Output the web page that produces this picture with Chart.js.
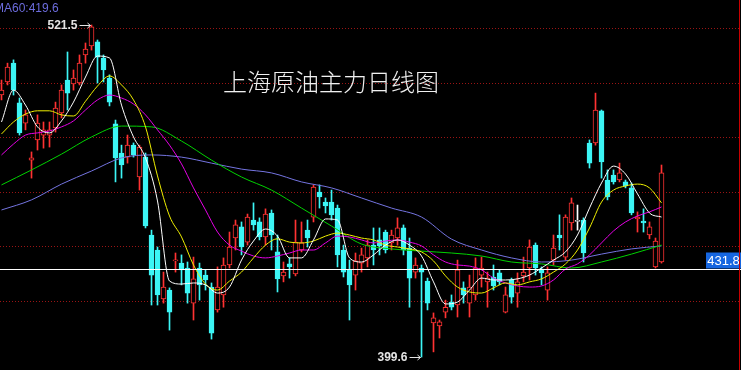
<!DOCTYPE html>
<html>
<head>
<meta charset="utf-8">
<title>上海原油主力日线图</title>
<script src="https://cdn.jsdelivr.net/npm/chart.js@4.4.1/dist/chart.umd.min.js"></script>
<style>
	html, body { margin: 0; padding: 0; background: #000; }
	canvas { display: block; background: #000; }
</style>
</head>
<body>
<canvas id="myChart" width="741" height="370"></canvas>
<script>
// daily candles, oldest first
var opens = [495.8, 500.6, 507.5, 492.9, 485.5, 471.9, 479.3, 481.1, 481.1, 483.7,
	489.2, 501.3, 499.9, 500.2, 510.5, 513.8, 515.3, 509.4, 502.0, 485.2,
	474.5, 473.0, 477.4, 465.7, 473.0, 444.4, 438.9, 420.9, 424.2, 434.9,
	434.1, 432.3, 419.4, 432.3, 429.7, 425.3, 416.9, 422.4, 433.4, 443.3,
	447.4, 441.8, 449.9, 449.2, 443.7, 452.5, 438.2, 429.4, 433.8, 430.1,
	438.9, 446.2, 451.0, 460.2, 456.5, 456.5, 454.3, 438.9, 431.6, 429.7,
	434.1, 436.0, 440.7, 442.6, 445.5, 441.5, 443.3, 447.0, 439.6, 430.8,
	432.3, 427.5, 412.1, 411.0, 416.1, 419.8, 418.7, 425.0, 419.4, 422.4,
	429.7, 427.2, 429.0, 430.5, 416.1, 427.9, 423.1, 429.4, 432.3, 440.7,
	431.9, 424.2, 435.2, 444.4, 436.3, 448.8, 449.4, 449.9, 478.2, 478.2,
	490.0, 464.6, 466.4, 464.6, 463.9, 461.7, 450.3, 449.5, 444.4, 432.7,
	434.5];
var highs = [501.3, 507.5, 508.7, 494.7, 490.3, 474.9, 488.5, 485.9, 485.9, 493.2,
	499.5, 511.6, 505.0, 510.5, 514.9, 521.5, 516.0, 510.5, 503.2, 486.6,
	477.4, 481.1, 478.2, 477.4, 474.5, 446.2, 440.0, 430.8, 425.0, 437.8,
	437.1, 434.5, 436.3, 434.1, 431.6, 426.8, 432.7, 436.0, 445.5, 449.9,
	449.2, 452.1, 456.2, 450.7, 454.0, 453.6, 444.4, 434.5, 436.0, 449.9,
	449.2, 449.9, 462.8, 462.8, 458.0, 460.9, 455.4, 440.7, 435.2, 437.8,
	439.6, 442.6, 447.0, 447.0, 446.2, 446.2, 450.7, 448.1, 443.3, 436.0,
	433.4, 428.6, 415.8, 413.2, 420.5, 422.4, 435.2, 427.2, 429.7, 436.0,
	436.3, 430.8, 433.4, 431.6, 425.3, 428.6, 430.5, 436.3, 442.6, 441.5,
	432.7, 432.7, 444.4, 451.8, 451.8, 458.0, 455.4, 450.7, 479.3, 496.5,
	490.3, 468.3, 468.3, 470.8, 464.6, 463.5, 452.9, 454.0, 449.2, 443.3,
	470.1];
var lows = [494.0, 499.5, 495.8, 481.1, 483.0, 465.3, 475.6, 476.3, 476.7, 482.2,
	487.4, 490.3, 497.6, 499.5, 507.5, 512.3, 500.2, 500.6, 491.8, 463.9,
	465.3, 470.8, 473.0, 460.9, 447.0, 418.7, 418.7, 419.4, 409.5, 430.8,
	426.1, 419.4, 413.2, 420.5, 424.2, 406.2, 416.1, 417.9, 432.3, 438.9,
	437.1, 440.7, 446.2, 442.6, 440.7, 438.9, 423.5, 427.2, 428.6, 429.4,
	438.2, 440.0, 449.2, 454.3, 452.5, 449.9, 432.7, 429.0, 413.2, 424.2,
	430.8, 432.7, 433.4, 437.1, 437.8, 438.9, 440.7, 437.1, 417.9, 428.6,
	399.6, 416.9, 401.5, 406.6, 414.0, 416.9, 414.3, 419.4, 414.3, 420.5,
	425.3, 417.9, 424.2, 426.1, 415.8, 419.4, 417.9, 427.2, 427.9, 429.7,
	426.1, 420.5, 433.4, 438.9, 435.2, 446.2, 446.2, 434.5, 469.0, 477.4,
	465.3, 457.3, 463.1, 463.9, 461.7, 451.8, 445.5, 445.5, 443.0, 432.3,
	434.1];
var closes = [497.6, 506.1, 497.6, 481.9, 488.5, 472.7, 485.5, 483.0, 483.0, 491.0,
	497.6, 496.5, 502.0, 507.5, 512.7, 520.8, 509.7, 505.0, 493.2, 472.7,
	470.1, 477.4, 473.8, 476.7, 447.7, 429.7, 422.4, 425.3, 416.1, 435.2,
	431.6, 423.1, 428.3, 426.1, 427.9, 408.4, 425.3, 433.4, 440.0, 448.1,
	440.0, 451.0, 448.1, 443.7, 452.1, 444.4, 428.3, 430.8, 432.7, 441.8,
	441.5, 443.3, 462.0, 458.4, 455.1, 451.8, 437.1, 430.8, 426.1, 434.9,
	437.1, 440.7, 438.9, 440.4, 438.9, 444.4, 447.0, 438.9, 428.6, 433.4,
	430.8, 419.4, 414.0, 412.5, 417.9, 417.9, 431.6, 422.4, 425.3, 432.3,
	432.3, 428.6, 425.7, 427.2, 422.4, 421.6, 427.2, 430.8, 440.0, 432.3,
	430.5, 430.5, 439.6, 443.3, 451.0, 456.2, 449.4, 437.8, 470.8, 490.3,
	471.2, 458.4, 463.9, 467.2, 462.4, 452.5, 451.0, 448.8, 447.4, 442.2,
	467.2];

// moving averages, read at every 2nd day (ma5/10/20) and every 5th day (ma40/60)
var maDaysFine = [0, 2, 4, 6, 8, 10, 12, 14, 16, 18, 20, 22, 24, 26, 28, 30, 32, 34, 36, 38,
	40, 42, 44, 46, 48, 50, 52, 54, 56, 58, 60, 62, 64, 66, 68, 70, 72, 74, 76, 78,
	80, 82, 84, 86, 88, 90, 92, 94, 96, 98, 100, 102, 104, 106, 108, 110];
var maDaysCoarse = [0, 5, 10, 15, 20, 25, 30, 35, 40, 45, 50, 55, 60, 65, 70, 75, 80, 85, 90, 95, 100, 105, 110];

var ma5 = [485.9, 497.6, 492.1, 484.1, 481.9, 486.3, 493.2, 502.4, 510.1, 509.4,
	492.1, 480.4, 472.7, 456.9, 427.5, 426.4, 426.8, 426.1, 423.1, 425.3,
	435.2, 442.2, 446.6, 444.0, 436.0, 436.0, 442.6, 450.3, 449.9, 436.0,
	434.5, 437.1, 440.7, 442.6, 440.7, 436.7, 427.2, 419.1, 419.8, 424.2,
	428.6, 427.9, 427.9, 428.3, 429.7, 432.3, 435.2, 438.2, 444.4, 454.3,
	463.5, 469.7, 466.8, 459.5, 452.5, 451.0];
var ma10 = [481.5, 485.9, 488.8, 490.0, 490.0, 488.5, 488.1, 493.5, 499.1, 502.8,
	499.5, 494.0, 484.1, 466.1, 451.4, 443.7, 433.4, 426.4, 424.2, 427.5,
	430.8, 436.0, 440.7, 443.0, 441.8, 441.5, 442.2, 444.0, 445.1, 444.4,
	443.3, 442.6, 440.7, 440.0, 439.3, 438.2, 434.9, 429.4, 425.3, 423.5,
	423.1, 425.0, 426.8, 426.1, 427.2, 428.3, 430.8, 433.8, 438.9, 447.0,
	456.5, 460.9, 462.4, 463.1, 461.7, 456.2];
var ma20 = [473.8, 477.8, 481.1, 481.9, 482.6, 484.1, 486.3, 490.3, 494.0, 495.8,
	494.7, 492.5, 488.5, 483.0, 477.4, 470.5, 461.7, 453.6, 445.5, 440.7,
	438.5, 436.7, 436.0, 436.7, 437.8, 438.9, 438.9, 441.5, 444.0, 443.7,
	442.6, 441.5, 442.2, 442.6, 441.8, 440.4, 437.1, 434.5, 433.4, 433.0,
	431.6, 428.6, 426.8, 425.7, 425.3, 425.7, 427.9, 431.9, 433.8, 437.1,
	441.5, 445.9, 449.2, 451.4, 452.9, 454.7];
var ma40 = [462.8, 468.3, 474.1, 480.4, 484.4, 484.1, 478.9, 471.9, 465.7, 460.9,
	454.3, 447.7, 441.1, 439.3, 438.5, 437.8, 436.7, 434.5, 433.8, 432.3,
	434.5, 437.4, 440.7];
var ma60 = [453.6, 457.3, 463.1, 467.9, 472.7, 473.8, 473.0, 470.8, 468.6, 467.2,
	463.9, 461.7, 458.0, 454.3, 451.0, 442.9, 438.9, 436.0, 434.5, 435.2,
	437.4, 439.3, 440.4];

var gridLevels = [420.3, 440.3, 460.3, 480.3, 500.3, 520.3];
var highMark = [15, 521.5];
var lowMark = [70, 399.6];
var lastPrice = 431.8;
var ma60Text = 'MA60:419.6';
var chartTitle = '上海原油主力日线图';

var UP = '#ff3232', DOWN = '#3cf5f5';

var candleColor = closes.map(function(c, i) {
	if (c > opens[i]) return UP;
	if (c < opens[i]) return DOWN;
	return '#ffffff';
});
var bodyFill = closes.map(function(c, i) {
	return c < opens[i] ? DOWN : '#000000';
});

function maSet(days, values, color) {
	return {
		type: 'line',
		data: days.map(function(d, k) { return { x: d, y: values[k] }; }),
		borderColor: color,
		borderWidth: 1,
		pointRadius: 0,
		cubicInterpolationMode: 'monotone',
		fill: false
	};
}

function arrowLabel(ctx, text, px, py) {
	ctx.font = 'bold 12px "Liberation Sans", Arial, sans-serif';
	ctx.fillStyle = '#e4e4e4';
	ctx.strokeStyle = '#e4e4e4';
	ctx.textAlign = 'right';
	ctx.textBaseline = 'middle';
	ctx.fillText(text, px - 14, py + 0.5);
	var yy = Math.round(py) + 0.5;
	ctx.beginPath();
	ctx.moveTo(px - 12, yy);
	ctx.lineTo(px - 1, yy);
	ctx.moveTo(px - 4, yy - 2.5);
	ctx.lineTo(px - 1, yy);
	ctx.lineTo(px - 4, yy + 2.5);
	ctx.stroke();
}

var overlay = {
	id: 'overlay',
	beforeDatasetsDraw: function(chart) {
		var ctx = chart.ctx, area = chart.chartArea, y = chart.scales.y;
		ctx.save();
		ctx.strokeStyle = '#9a1414';
		ctx.lineWidth = 1;
		ctx.setLineDash([1, 2]);
		gridLevels.forEach(function(v) {
			var py = Math.round(y.getPixelForValue(v)) + 0.5;
			ctx.beginPath();
			ctx.moveTo(area.left, py);
			ctx.lineTo(area.right - 2, py);
			ctx.stroke();
		});
		ctx.restore();
	},
	afterDatasetsDraw: function(chart) {
		var ctx = chart.ctx, area = chart.chartArea, x = chart.scales.x, y = chart.scales.y;
		ctx.save();

		// last price line + tag
		var py = Math.round(y.getPixelForValue(lastPrice)) + 0.5;
		ctx.strokeStyle = '#ffffff';
		ctx.lineWidth = 1;
		ctx.beginPath();
		ctx.moveTo(area.left, py);
		ctx.lineTo(area.right, py);
		ctx.stroke();
		ctx.fillStyle = '#1666e0';
		ctx.fillRect(area.right - 35, py - 17, 35, 16);
		ctx.fillStyle = '#ffffff';
		ctx.font = '13px "Liberation Sans", Arial, sans-serif';
		ctx.textAlign = 'center';
		ctx.textBaseline = 'middle';
		ctx.fillText(lastPrice.toFixed(1), area.right - 17.5, py - 8.5);

		// right border
		ctx.strokeStyle = '#c80000';
		ctx.beginPath();
		ctx.moveTo(area.right - 1.5, area.top);
		ctx.lineTo(area.right - 1.5, area.bottom);
		ctx.stroke();

		// high / low marks
		arrowLabel(ctx, highMark[1].toFixed(1), x.getPixelForValue(highMark[0]), y.getPixelForValue(highMark[1]));
		arrowLabel(ctx, lowMark[1].toFixed(1), x.getPixelForValue(lowMark[0]), y.getPixelForValue(lowMark[1]));

		// MA60 readout, clipped on the left like the original
		ctx.font = '12px "Liberation Sans", Arial, sans-serif';
		ctx.fillStyle = '#6c6cdc';
		ctx.textAlign = 'left';
		ctx.textBaseline = 'middle';
		ctx.fillText(ma60Text, -6, 9);

		// title
		ctx.font = '300 24px "Noto Sans CJK SC", sans-serif';
		ctx.fillStyle = '#f0f0f0';
		ctx.textAlign = 'center';
		ctx.fillText(chartTitle, 331, 82);

		ctx.restore();
	}
};

var days = opens.map(function(o, i) { return i; });

var ctx = document.getElementById('myChart');
var myChart = new Chart(ctx, {
	type: 'bar',
	data: {
		datasets: [
			maSet(maDaysFine, ma5, '#ffffff'),
			maSet(maDaysFine, ma10, '#f0f000'),
			maSet(maDaysFine, ma20, '#e600e6'),
			maSet(maDaysCoarse, ma40, '#00d200'),
			maSet(maDaysCoarse, ma60, '#7474e0'),
			{
				// candle bodies
				data: days.map(function(i) { return { x: i, y: [opens[i], closes[i]] }; }),
				backgroundColor: bodyFill,
				borderColor: candleColor,
				borderWidth: 1,
				borderSkipped: false,
				barThickness: 5,
				minBarLength: 1,
				grouped: false
			},
			{
				// wicks
				data: days.map(function(i) { return { x: i, y: [lows[i], highs[i]] }; }),
				backgroundColor: candleColor,
				borderWidth: 0,
				barThickness: 1,
				grouped: false
			}
		]
	},
	options: {
		responsive: false,
		animation: false,
		events: [],
		layout: { padding: 0 },
		plugins: { legend: { display: false }, tooltip: { enabled: false } },
		scales: {
			x: { type: 'linear', min: -0.25, max: 123.25, offset: false, display: false },
			y: { type: 'linear', min: 394.85, max: 530.68, display: false }
		}
	},
	plugins: [overlay]
});
</script>
</body>
</html>
